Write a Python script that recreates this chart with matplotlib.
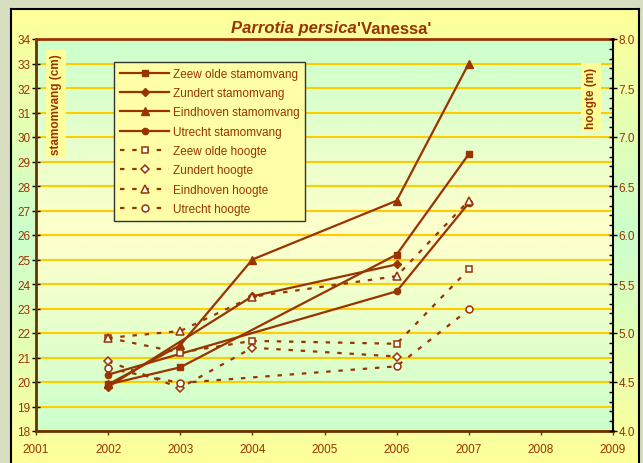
import matplotlib
matplotlib.use("Agg")
import matplotlib.pyplot as plt
import numpy as np
from matplotlib.colors import to_rgb

plt.rcParams['font.family'] = ['Liberation Sans', 'DejaVu Sans']

# stamomvang (cm), left axis
zeewolde_stam_x = [2002, 2003, 2006, 2007]
zeewolde_stam = [19.9, 20.6, 25.2, 29.3]
zundert_stam_x = [2002, 2004, 2006]
zundert_stam = [19.8, 23.5, 24.8]
eindhoven_stam_x = [2002, 2003, 2004, 2006, 2007]
eindhoven_stam = [19.9, 21.5, 25.0, 27.4, 33.0]
utrecht_stam_x = [2002, 2006, 2007]
utrecht_stam = [20.3, 23.7, 27.3]

# hoogte (m), right axis
zeewolde_hoogte_x = [2002, 2003, 2004, 2006, 2007]
zeewolde_hoogte = [4.95, 4.80, 4.92, 4.89, 5.65]
zundert_hoogte_x = [2002, 2003, 2004, 2006]
zundert_hoogte = [4.71, 4.44, 4.85, 4.76]
eindhoven_hoogte_x = [2002, 2003, 2004, 2006, 2007]
eindhoven_hoogte = [4.95, 5.02, 5.37, 5.58, 6.35]
utrecht_hoogte_x = [2002, 2003, 2006, 2007]
utrecht_hoogte = [4.64, 4.49, 4.66, 5.24]

brown = '#993300'
W, H = 643, 464


def vgrad(c_mid, c_edge, n=256):
    t = np.abs(np.linspace(-1, 1, n))[:, None]
    a = np.array(to_rgb(c_mid))
    b = np.array(to_rgb(c_edge))
    return (a * (1 - t) + b * t)[:, None, :].repeat(2, axis=1)


fig = plt.figure(figsize=(W / 100, H / 100), dpi=100)
fig.patch.set_facecolor('#D8DFC0')

# chart area
bg = fig.add_axes([11 / W, 0, (639 - 11) / W, (464 - 10) / H])
bg.imshow(vgrad('#CCFFCC', '#FFFF99'), aspect='auto', extent=[0, 1, 0, 1])
bg.set_xticks([])
bg.set_yticks([])
for s in ['top', 'left', 'right']:
    bg.spines[s].set_color('black')
    bg.spines[s].set_linewidth(1.5)
bg.spines['bottom'].set_visible(False)

ax = fig.add_axes([36 / W, (H - 432) / H, (613 - 36) / W, (432 - 40) / H])
ax.imshow(vgrad('#FFFFCC', '#CCFFCC'), aspect='auto',
          extent=[2001, 2009, 18, 34], zorder=0)
ax.set_xlim(2001, 2009)
ax.set_ylim(18, 34)
ax.set_yticks(range(18, 35))
ax.set_xticks(range(2001, 2010))
ax.yaxis.grid(True, color='#FFCC00', lw=1.5, zorder=1)
ax.set_axisbelow(True)

line_kw = dict(color=brown, lw=1.6, zorder=3)
h1, = ax.plot(zeewolde_stam_x, zeewolde_stam, marker='s', ms=4.5, label='Zeew olde stamomvang', **line_kw)
h2, = ax.plot(zundert_stam_x, zundert_stam, marker='D', ms=4, label='Zundert stamomvang', **line_kw)
h3, = ax.plot(eindhoven_stam_x, eindhoven_stam, marker='^', ms=5.5, label='Eindhoven stamomvang', **line_kw)
h4, = ax.plot(utrecht_stam_x, utrecht_stam, marker='o', ms=4.5, label='Utrecht stamomvang', **line_kw)

ax2 = ax.twinx()
ax2.set_ylim(4.0, 8.0)
ax2.set_yticks(np.arange(4.0, 8.01, 0.5))
ax2.set_yticks(np.arange(4.0, 8.01, 0.1), minor=True)
ax2.yaxis.set_major_formatter(matplotlib.ticker.FormatStrFormatter('%.1f'))

dot_kw = dict(color=brown, lw=1.6, ls=(0, (2, 3.5)), mfc='white', mec=brown, mew=1.1, zorder=3)
h5, = ax2.plot(zeewolde_hoogte_x, zeewolde_hoogte, marker='s', ms=5, label='Zeew olde hoogte', **dot_kw)
h6, = ax2.plot(zundert_hoogte_x, zundert_hoogte, marker='D', ms=4.5, label='Zundert hoogte', **dot_kw)
h7, = ax2.plot(eindhoven_hoogte_x, eindhoven_hoogte, marker='^', ms=6, label='Eindhoven hoogte', **dot_kw)
h8, = ax2.plot(utrecht_hoogte_x, utrecht_hoogte, marker='o', ms=5, label='Utrecht hoogte', **dot_kw)

# spines and ticks
ax.spines['left'].set_color('#663300')
ax.spines['left'].set_linewidth(2)
ax.spines['bottom'].set_color('#663300')
ax.spines['bottom'].set_linewidth(2)
ax.spines['top'].set_color(brown)
ax.spines['top'].set_linewidth(2)
ax.spines['right'].set_visible(False)
ax2.spines['left'].set_visible(False)
ax2.spines['bottom'].set_visible(False)
ax2.spines['top'].set_visible(False)
ax2.spines['right'].set_color('black')
ax2.spines['right'].set_linewidth(1.5)

ax.tick_params(axis='y', direction='inout', length=6, width=1, color='black',
               labelcolor=brown, labelsize=8.5, pad=1)
ax.tick_params(axis='x', direction='out', length=3, width=1, color='#663300',
               labelcolor=brown, labelsize=8.5, pad=6)
ax2.tick_params(axis='y', which='major', direction='inout', length=6, width=1,
                color='black', labelcolor=brown, labelsize=8.5, pad=1)
ax2.tick_params(axis='y', which='minor', direction='in', length=3, width=1, color='black')

# title: italic species name followed by upright cultivar name, centred as one line
ty = 1 - 29 / H
ta = fig.text(0, ty, "Parrotia persica", fontsize=12, fontweight='bold',
              fontstyle='italic', color=brown, ha='left', va='center')
tb = fig.text(0, ty, "'Vanessa'", fontsize=12, fontweight='bold',
              color=brown, ha='left', va='center')
renderer = fig.canvas.get_renderer()
wa = ta.get_window_extent(renderer).width
wb = tb.get_window_extent(renderer).width
x0 = 331 - (wa + wb) / 2
ta.set_x(x0 / W)
tb.set_x((x0 + wa) / W)

box = dict(boxstyle='square,pad=0.3', fc='#FFFF99', ec='none')
ax.text(56 / W, 1 - 105 / H, 'stamomvang (cm)', transform=fig.transFigure, rotation=90,
        fontsize=8.5, fontweight='bold', color=brown, ha='center', va='center',
        bbox=box, zorder=4)
ax2.text(591 / W, 1 - 98 / H, 'hoogte (m)', transform=fig.transFigure, rotation=90,
         fontsize=8.5, fontweight='bold', color=brown, ha='center', va='center',
         bbox=box, zorder=4)

leg = ax2.legend(handles=[h1, h2, h3, h4, h5, h6, h7, h8], loc='upper left',
                 bbox_to_anchor=(108 / W, 1 - 57 / H), bbox_transform=fig.transFigure,
                 fontsize=8.5, handlelength=4.2, handletextpad=0.3, labelspacing=0.62,
                 borderpad=0.5, frameon=True, fancybox=False, labelcolor=brown)
leg.get_frame().set_facecolor('#FFFFA8')
leg.get_frame().set_edgecolor('#333333')
leg.get_frame().set_linewidth(1.0)
leg.get_frame().set_alpha(1)

fig.savefig('out.png', dpi=100)
